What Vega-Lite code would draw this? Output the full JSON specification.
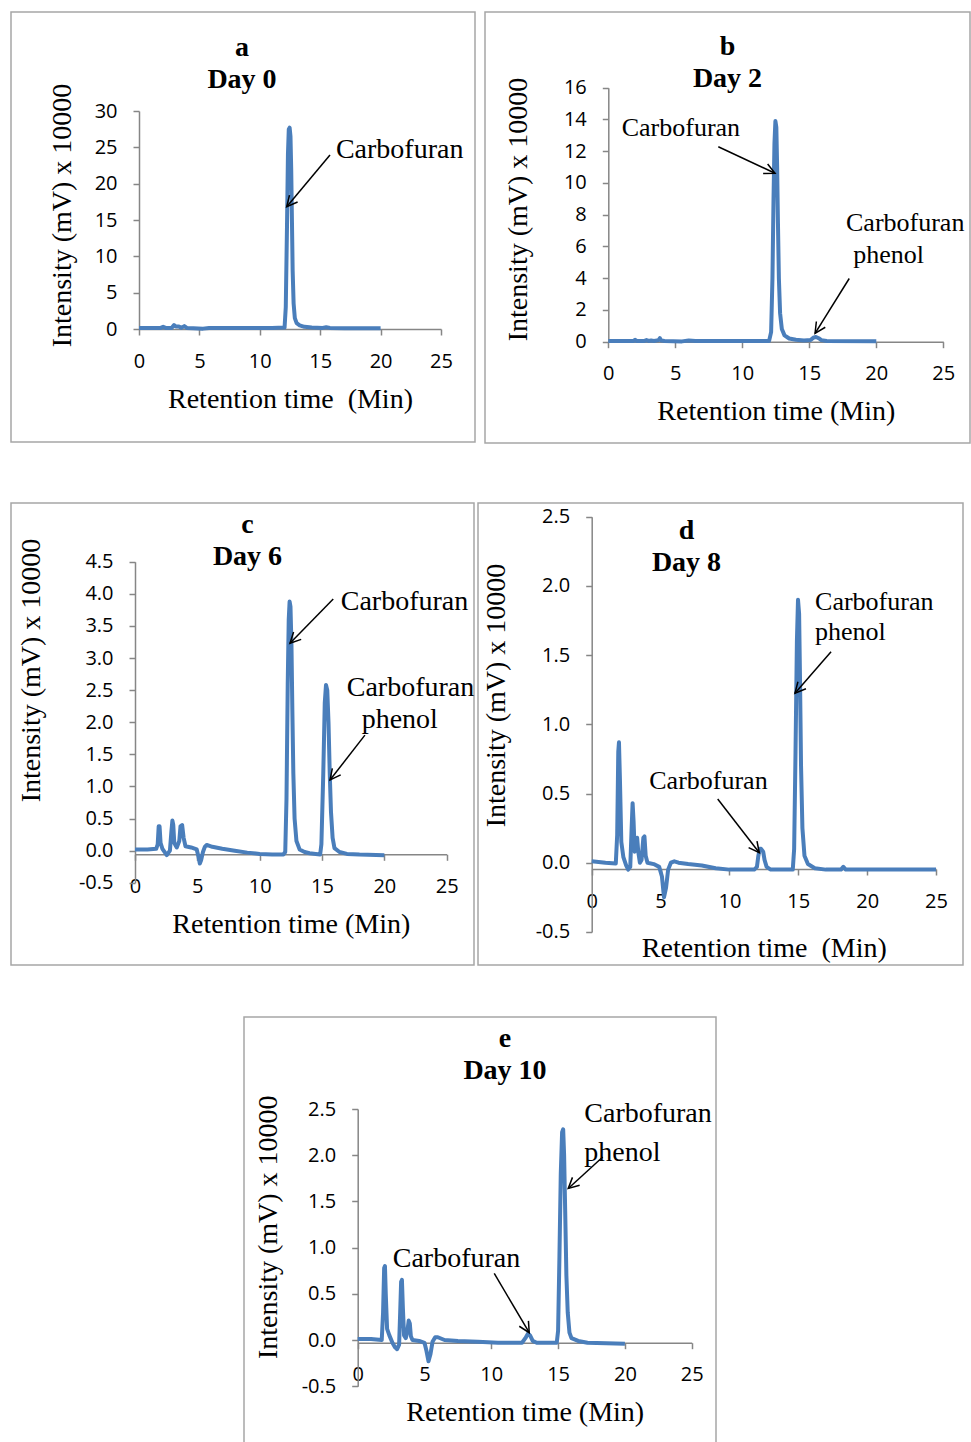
{
  "$schema": "https://vega.github.io/schema/vega-lite/v6.json",
  "padding": {"left": 10, "top": 11, "right": 0, "bottom": 0},
  "background": "white",
  "config": {
    "view": {"stroke": "#a6a6a6", "strokeWidth": 1.5},
    "axis": {
      "grid": false, "domainColor": "#868686", "domainWidth": 1.5, "tickColor": "#868686", "tickWidth": 1.5,
      "tickSize": 6, "labelPadding": 16, "labelFont": "Open Sans", "labelFontSize": 20, "labelColor": "#000000",
      "titleFont": "Liberation Serif", "titleFontSize": 28, "titleFontWeight": "normal", "titleColor": "#000000",
      "minExtent": 0, "labelFlush": false, "labelOverlap": false, "labelBound": false
    },
    "title": {"font": "Liberation Serif", "fontSize": 28, "fontWeight": "bold", "color": "#000000", "anchor": "middle", "frame": "group", "lineHeight": 32, "baseline": "middle"},
    "text": {"font": "Liberation Serif", "fontSize": 28, "align": "left", "baseline": "middle", "color": "#000000"}
  },
  "datasets": {
    "a": [{"t":0,"v":0.15},{"t":1,"v":0.15},{"t":1.8,"v":0.15},{"t":2.0,"v":0.3},{"t":2.2,"v":0.15},{"t":2.7,"v":0.15},{"t":2.9,"v":0.55},{"t":3.05,"v":0.35},{"t":3.3,"v":0.35},{"t":3.5,"v":0.15},{"t":3.75,"v":0.4},{"t":3.95,"v":0.15},{"t":4.5,"v":0.1},{"t":5.3,"v":0.05},{"t":5.8,"v":0.15},{"t":7,"v":0.15},{"t":9,"v":0.15},{"t":11,"v":0.15},{"t":12.05,"v":0.2},{"t":12.15,"v":3},{"t":12.25,"v":14},{"t":12.33,"v":24},{"t":12.4,"v":27.5},{"t":12.47,"v":27.7},{"t":12.54,"v":26.5},{"t":12.6,"v":22},{"t":12.66,"v":15},{"t":12.72,"v":8},{"t":12.8,"v":3.5},{"t":12.9,"v":1.5},{"t":13.05,"v":0.8},{"t":13.3,"v":0.5},{"t":13.7,"v":0.3},{"t":14.3,"v":0.2},{"t":15.2,"v":0.15},{"t":15.5,"v":0.25},{"t":15.8,"v":0.15},{"t":17,"v":0.12},{"t":20,"v":0.1}],
    "a_txt": [{"t":16.3,"v":24.6,"label":"Carbofuran"}],
    "a_arr": [{"t":15.81,"v":23.94,"t2":12.23,"v2":16.83,"ang":129.9}],
    "b": [{"t":0,"v":0.05},{"t":1.9,"v":0.05},{"t":2.0,"v":0.12},{"t":2.1,"v":0.05},{"t":2.7,"v":0.05},{"t":2.85,"v":0.1},{"t":3.0,"v":0.05},{"t":3.2,"v":0.08},{"t":3.4,"v":0.05},{"t":3.75,"v":0.1},{"t":3.85,"v":0.22},{"t":3.95,"v":0.08},{"t":4.2,"v":0.05},{"t":5.5,"v":0.02},{"t":6,"v":0.08},{"t":6.5,"v":0.05},{"t":9,"v":0.04},{"t":12.0,"v":0.05},{"t":12.15,"v":0.6},{"t":12.25,"v":4},{"t":12.33,"v":9},{"t":12.4,"v":12.5},{"t":12.47,"v":13.9},{"t":12.54,"v":13.5},{"t":12.6,"v":11},{"t":12.66,"v":7.5},{"t":12.73,"v":4},{"t":12.82,"v":1.8},{"t":12.95,"v":0.8},{"t":13.15,"v":0.4},{"t":13.5,"v":0.2},{"t":14,"v":0.12},{"t":14.6,"v":0.08},{"t":15.1,"v":0.1},{"t":15.3,"v":0.25},{"t":15.5,"v":0.3},{"t":15.7,"v":0.22},{"t":15.9,"v":0.1},{"t":16.3,"v":0.05},{"t":20,"v":0.03}],
    "b_txt": [{"t":1.0,"v":13.44,"label":"Carbofuran"},{"t":17.74,"v":7.5,"label":"Carbofuran"},{"t":18.28,"v":5.46,"label":"phenol"}],
    "b_arr": [{"t":8.21,"v":12.28,"t2":12.44,"v2":10.61,"ang":25.1},{"t":17.98,"v":3.98,"t2":15.43,"v2":0.53,"ang":122.9}],
    "c": [{"t":0,"v":0.02},{"t":1.0,"v":0.02},{"t":1.7,"v":0.03},{"t":1.82,"v":0.1},{"t":1.9,"v":0.38},{"t":1.97,"v":0.38},{"t":2.05,"v":0.12},{"t":2.2,"v":0.03},{"t":2.55,"v":-0.07},{"t":2.8,"v":0.0},{"t":2.92,"v":0.3},{"t":3.0,"v":0.47},{"t":3.07,"v":0.4},{"t":3.15,"v":0.12},{"t":3.35,"v":0.05},{"t":3.55,"v":0.15},{"t":3.65,"v":0.38},{"t":3.78,"v":0.4},{"t":3.9,"v":0.2},{"t":4.05,"v":0.07},{"t":4.5,"v":0.05},{"t":4.95,"v":0.02},{"t":5.1,"v":-0.1},{"t":5.2,"v":-0.2},{"t":5.3,"v":-0.15},{"t":5.45,"v":-0.02},{"t":5.6,"v":0.06},{"t":5.75,"v":0.09},{"t":6.2,"v":0.06},{"t":7.0,"v":0.03},{"t":8,"v":0.0},{"t":9,"v":-0.03},{"t":10,"v":-0.05},{"t":11,"v":-0.06},{"t":11.9,"v":-0.06},{"t":12.05,"v":-0.02},{"t":12.15,"v":0.8},{"t":12.25,"v":2.6},{"t":12.33,"v":3.6},{"t":12.4,"v":3.88},{"t":12.47,"v":3.8},{"t":12.55,"v":3.2},{"t":12.62,"v":2.2},{"t":12.7,"v":1.2},{"t":12.8,"v":0.5},{"t":12.95,"v":0.15},{"t":13.2,"v":0.02},{"t":13.6,"v":-0.02},{"t":14,"v":-0.04},{"t":14.5,"v":-0.05},{"t":14.85,"v":-0.06},{"t":14.95,"v":0.1},{"t":15.1,"v":1.2},{"t":15.22,"v":2.3},{"t":15.32,"v":2.58},{"t":15.42,"v":2.5},{"t":15.52,"v":2.0},{"t":15.62,"v":1.2},{"t":15.72,"v":0.6},{"t":15.85,"v":0.2},{"t":16.0,"v":0.04},{"t":16.4,"v":-0.02},{"t":17,"v":-0.05},{"t":18,"v":-0.06},{"t":20,"v":-0.07}],
    "c_txt": [{"t":16.5,"v":3.87,"label":"Carbofuran"},{"t":16.98,"v":2.53,"label":"Carbofuran"},{"t":18.18,"v":2.04,"label":"phenol"}],
    "c_arr": [{"t":15.9,"v":3.92,"t2":12.43,"v2":3.23,"ang":134.3},{"t":18.44,"v":1.8,"t2":15.64,"v2":1.1,"ang":127.9}],
    "d": [{"t":0,"v":0.01},{"t":1.0,"v":0.0},{"t":1.75,"v":-0.005},{"t":1.85,"v":0.2},{"t":1.93,"v":0.8},{"t":1.98,"v":0.87},{"t":2.05,"v":0.6},{"t":2.15,"v":0.15},{"t":2.3,"v":0.04},{"t":2.5,"v":-0.02},{"t":2.65,"v":-0.05},{"t":2.8,"v":-0.03},{"t":2.9,"v":0.25},{"t":2.97,"v":0.43},{"t":3.04,"v":0.3},{"t":3.12,"v":0.08},{"t":3.2,"v":0.1},{"t":3.3,"v":0.18},{"t":3.38,"v":0.08},{"t":3.5,"v":0.0},{"t":3.62,"v":0.02},{"t":3.75,"v":0.18},{"t":3.83,"v":0.19},{"t":3.92,"v":0.05},{"t":4.05,"v":0.0},{"t":4.5,"v":-0.01},{"t":4.9,"v":-0.03},{"t":5.1,"v":-0.1},{"t":5.25,"v":-0.25},{"t":5.4,"v":-0.18},{"t":5.55,"v":-0.05},{"t":5.75,"v":0.0},{"t":6.0,"v":0.01},{"t":6.3,"v":0.0},{"t":7,"v":-0.01},{"t":8,"v":-0.02},{"t":9,"v":-0.04},{"t":10,"v":-0.05},{"t":11.8,"v":-0.05},{"t":12.0,"v":-0.03},{"t":12.1,"v":0.05},{"t":12.2,"v":0.1},{"t":12.3,"v":0.1},{"t":12.45,"v":0.08},{"t":12.55,"v":0.02},{"t":12.7,"v":-0.03},{"t":13.0,"v":-0.05},{"t":14.0,"v":-0.05},{"t":14.6,"v":-0.05},{"t":14.7,"v":0.1},{"t":14.8,"v":0.8},{"t":14.9,"v":1.6},{"t":14.98,"v":1.9},{"t":15.06,"v":1.8},{"t":15.13,"v":1.3},{"t":15.2,"v":0.7},{"t":15.3,"v":0.25},{"t":15.45,"v":0.05},{"t":15.7,"v":-0.01},{"t":16.2,"v":-0.04},{"t":17,"v":-0.05},{"t":18.1,"v":-0.05},{"t":18.27,"v":-0.03},{"t":18.45,"v":-0.05},{"t":20,"v":-0.05},{"t":25,"v":-0.05}],
    "d_txt": [{"t":16.22,"v":1.886,"label":"Carbofuran"},{"t":16.22,"v":1.67,"label":"phenol"},{"t":4.18,"v":0.59,"label":"Carbofuran"}],
    "d_arr": [{"t":17.38,"v":1.525,"t2":14.76,"v2":1.224,"ang":130.9},{"t":9.15,"v":0.46,"t2":12.17,"v2":0.072,"ang":52.2}],
    "e": [{"t":0,"v":0.01},{"t":1.0,"v":0.01},{"t":1.8,"v":0.0},{"t":1.9,"v":0.3},{"t":1.98,"v":0.78},{"t":2.04,"v":0.8},{"t":2.1,"v":0.5},{"t":2.2,"v":0.12},{"t":2.37,"v":0.05},{"t":2.6,"v":-0.03},{"t":2.8,"v":-0.08},{"t":2.95,"v":-0.1},{"t":3.1,"v":-0.05},{"t":3.18,"v":0.3},{"t":3.25,"v":0.63},{"t":3.31,"v":0.65},{"t":3.38,"v":0.35},{"t":3.47,"v":0.05},{"t":3.6,"v":0.02},{"t":3.72,"v":0.1},{"t":3.82,"v":0.21},{"t":3.9,"v":0.18},{"t":3.98,"v":0.04},{"t":4.1,"v":0.0},{"t":4.6,"v":-0.01},{"t":5.0,"v":-0.03},{"t":5.15,"v":-0.12},{"t":5.3,"v":-0.23},{"t":5.45,"v":-0.15},{"t":5.6,"v":-0.02},{"t":5.8,"v":0.03},{"t":6.0,"v":0.03},{"t":6.5,"v":0.0},{"t":7.5,"v":-0.01},{"t":9,"v":-0.02},{"t":10.5,"v":-0.03},{"t":12.3,"v":-0.03},{"t":12.55,"v":0.02},{"t":12.75,"v":0.07},{"t":12.9,"v":0.05},{"t":13.1,"v":-0.01},{"t":13.4,"v":-0.03},{"t":14.9,"v":-0.03},{"t":15.0,"v":0.1},{"t":15.1,"v":0.9},{"t":15.2,"v":1.8},{"t":15.3,"v":2.25},{"t":15.38,"v":2.28},{"t":15.45,"v":2.0},{"t":15.53,"v":1.4},{"t":15.62,"v":0.7},{"t":15.72,"v":0.3},{"t":15.85,"v":0.08},{"t":16.0,"v":0.02},{"t":16.5,"v":-0.01},{"t":17.2,"v":-0.03},{"t":20,"v":-0.04}],
    "e_txt": [{"t":16.96,"v":2.45,"label":"Carbofuran"},{"t":16.96,"v":2.02,"label":"phenol"},{"t":2.62,"v":0.873,"label":"Carbofuran"}],
    "e_arr": [{"t":18.34,"v":1.98,"t2":15.76,"v2":1.64,"ang":137.4},{"t":10.22,"v":0.72,"t2":12.84,"v2":0.079,"ang":59.5}]
  },
  "vconcat": [
    {
      "vconcat": [
        {
          "hconcat": [
            {
              "width": 464, "height": 430,
              "title": {"text": ["a", "Day 0"], "dx": -1, "offset": -82},
              "layer": [
                {"data": {"name": "a"}, "mark": {"type": "line", "color": "#4A7EBB", "strokeWidth": 4, "strokeJoin": "round"},
                 "encoding": {
                   "x": {"field": "t", "type": "quantitative", "scale": {"domain": [0, 25], "range": [128, 430], "nice": false, "zero": false},
                         "axis": {"title": "Retention time\u00a0 (Min)", "values": [0, 5, 10, 15, 20, 25], "offset": -113, "titlePadding": 14}},
                   "y": {"field": "v", "type": "quantitative", "scale": {"domain": [0, 30], "range": [317, 99], "nice": false, "zero": false},
                         "axis": {"title": "Intensity (mV) x 10000", "values": [0, 5, 10, 15, 20, 25, 30], "offset": -128, "titlePadding": 18, "titleY": 203}}
                 }},
                {"data": {"name": "a_txt"}, "mark": {"type": "text"},
                 "encoding": {"x": {"field": "t", "type": "quantitative"}, "y": {"field": "v", "type": "quantitative"}, "text": {"field": "label"}}},
                {"data": {"name": "a_arr"}, "mark": {"type": "rule", "color": "#000000", "strokeWidth": 1.5},
                 "encoding": {"x": {"field": "t", "type": "quantitative"}, "y": {"field": "v", "type": "quantitative"}, "x2": {"field": "t2"}, "y2": {"field": "v2"}}},
                {"data": {"name": "a_arr"}, "mark": {"type": "point", "shape": "M-1,-0.5L0,0L-1,0.5", "filled": false, "size": 450, "stroke": "#000000", "strokeWidth": 1.5, "opacity": 1},
                 "encoding": {"x": {"field": "t2", "type": "quantitative"}, "y": {"field": "v2", "type": "quantitative"}, "angle": {"field": "ang", "type": "quantitative", "scale": null}}}
              ]
            },
            {
              "width": 485, "height": 431,
              "title": {"text": ["b", "Day 2"], "dx": 0, "offset": -81},
              "layer": [
                {"data": {"name": "b"}, "mark": {"type": "line", "color": "#4A7EBB", "strokeWidth": 4, "strokeJoin": "round"},
                 "encoding": {
                   "x": {"field": "t", "type": "quantitative", "scale": {"domain": [0, 25], "range": [123.3, 458.3], "nice": false, "zero": false},
                         "axis": {"title": "Retention time (Min)", "values": [0, 5, 10, 15, 20, 25], "offset": -101.3, "titlePadding": 13.5}},
                   "y": {"field": "v", "type": "quantitative", "scale": {"domain": [0, 16], "range": [329.7, 75.7], "nice": false, "zero": false},
                         "axis": {"title": "Intensity (mV) x 10000", "values": [0, 2, 4, 6, 8, 10, 12, 14, 16], "offset": -123.3, "titlePadding": 31, "titleY": 197}}
                 }},
                {"data": {"name": "b_txt"}, "mark": {"type": "text", "fontSize": 26},
                 "encoding": {"x": {"field": "t", "type": "quantitative"}, "y": {"field": "v", "type": "quantitative"}, "text": {"field": "label"}}},
                {"data": {"name": "b_arr"}, "mark": {"type": "rule", "color": "#000000", "strokeWidth": 1.5},
                 "encoding": {"x": {"field": "t", "type": "quantitative"}, "y": {"field": "v", "type": "quantitative"}, "x2": {"field": "t2"}, "y2": {"field": "v2"}}},
                {"data": {"name": "b_arr"}, "mark": {"type": "point", "shape": "M-1,-0.5L0,0L-1,0.5", "filled": false, "size": 450, "stroke": "#000000", "strokeWidth": 1.5, "opacity": 1},
                 "encoding": {"x": {"field": "t2", "type": "quantitative"}, "y": {"field": "v2", "type": "quantitative"}, "angle": {"field": "ang", "type": "quantitative", "scale": null}}}
              ]
            }
          ],
          "spacing": 8
        },
        {
          "hconcat": [
            {
              "width": 463, "height": 462,
              "title": {"text": ["c", "Day 6"], "dx": 5, "offset": -68},
              "layer": [
                {"data": {"name": "c"}, "mark": {"type": "line", "color": "#4A7EBB", "strokeWidth": 4, "strokeJoin": "round"},
                 "encoding": {
                   "x": {"field": "t", "type": "quantitative", "scale": {"domain": [0, 25], "range": [124, 435.7], "nice": false, "zero": false},
                         "axis": {"title": "Retention time (Min)", "values": [0, 5, 10, 15, 20, 25], "offset": -110.7, "titlePadding": 14}},
                   "y": {"field": "v", "type": "quantitative", "scale": {"domain": [-0.5, 4.5], "range": [379.8, 58.7], "nice": false, "zero": false},
                         "axis": {"title": "Intensity (mV) x 10000", "values": [-0.5, 0, 0.5, 1, 1.5, 2, 2.5, 3, 3.5, 4, 4.5], "labelExpr": "datum.value < 0 ? '-' + format(-datum.value, '.1f') : format(datum.value, '.1f')", "offset": -124, "titlePadding": 33, "titleY": 167}}
                 }},
                {"data": {"name": "c_txt"}, "mark": {"type": "text"},
                 "encoding": {"x": {"field": "t", "type": "quantitative"}, "y": {"field": "v", "type": "quantitative"}, "text": {"field": "label"}}},
                {"data": {"name": "c_arr"}, "mark": {"type": "rule", "color": "#000000", "strokeWidth": 1.5},
                 "encoding": {"x": {"field": "t", "type": "quantitative"}, "y": {"field": "v", "type": "quantitative"}, "x2": {"field": "t2"}, "y2": {"field": "v2"}}},
                {"data": {"name": "c_arr"}, "mark": {"type": "point", "shape": "M-1,-0.5L0,0L-1,0.5", "filled": false, "size": 450, "stroke": "#000000", "strokeWidth": 1.5, "opacity": 1},
                 "encoding": {"x": {"field": "t2", "type": "quantitative"}, "y": {"field": "v2", "type": "quantitative"}, "angle": {"field": "ang", "type": "quantitative", "scale": null}}}
              ]
            },
            {
              "width": 485, "height": 462,
              "title": {"text": ["d", "Day 8"], "dx": -34, "offset": -74},
              "layer": [
                {"data": {"name": "d"}, "mark": {"type": "line", "color": "#4A7EBB", "strokeWidth": 4, "strokeJoin": "round"},
                 "encoding": {
                   "x": {"field": "t", "type": "quantitative", "scale": {"domain": [0, 25], "range": [113.7, 458], "nice": false, "zero": false},
                         "axis": {"title": "Retention time\u00a0 (Min)", "values": [0, 5, 10, 15, 20, 25], "offset": -96, "titlePadding": 23}},
                   "y": {"field": "v", "type": "quantitative", "scale": {"domain": [-0.5, 2.5], "range": [428.9, 13.7], "nice": false, "zero": false},
                         "axis": {"title": "Intensity (mV) x 10000", "values": [-0.5, 0, 0.5, 1, 1.5, 2, 2.5], "labelExpr": "datum.value < 0 ? '-' + format(-datum.value, '.1f') : format(datum.value, '.1f')", "offset": -113.7, "titlePadding": 25, "titleY": 192}}
                 }},
                {"data": {"name": "d_txt"}, "mark": {"type": "text", "fontSize": 26},
                 "encoding": {"x": {"field": "t", "type": "quantitative"}, "y": {"field": "v", "type": "quantitative"}, "text": {"field": "label"}}},
                {"data": {"name": "d_arr"}, "mark": {"type": "rule", "color": "#000000", "strokeWidth": 1.5},
                 "encoding": {"x": {"field": "t", "type": "quantitative"}, "y": {"field": "v", "type": "quantitative"}, "x2": {"field": "t2"}, "y2": {"field": "v2"}}},
                {"data": {"name": "d_arr"}, "mark": {"type": "point", "shape": "M-1,-0.5L0,0L-1,0.5", "filled": false, "size": 450, "stroke": "#000000", "strokeWidth": 1.5, "opacity": 1},
                 "encoding": {"x": {"field": "t2", "type": "quantitative"}, "y": {"field": "v2", "type": "quantitative"}, "angle": {"field": "ang", "type": "quantitative", "scale": null}}}
              ]
            }
          ],
          "spacing": 2
        }
      ],
      "spacing": 58
    },
    {
      "hconcat": [
        {"width": 232, "height": 10, "data": {"values": [{}]}, "mark": {"type": "point", "opacity": 0}, "view": {"stroke": null}},
        {
          "width": 472, "height": 430,
          "title": {"text": ["e", "Day 10"], "dx": 25, "offset": -68},
          "layer": [
            {"data": {"name": "e"}, "mark": {"type": "line", "color": "#4A7EBB", "strokeWidth": 4, "strokeJoin": "round"},
             "encoding": {
               "x": {"field": "t", "type": "quantitative", "scale": {"domain": [0, 25], "range": [113.7, 447.7], "nice": false, "zero": false},
                     "axis": {"title": "Retention time (Min)", "values": [0, 5, 10, 15, 20, 25], "offset": -104.3, "titlePadding": 14}},
               "y": {"field": "v", "type": "quantitative", "scale": {"domain": [-0.5, 2.5], "range": [369.2, 92], "nice": false, "zero": false},
                     "axis": {"title": "Intensity (mV) x 10000", "values": [-0.5, 0, 0.5, 1, 1.5, 2, 2.5], "labelExpr": "datum.value < 0 ? '-' + format(-datum.value, '.1f') : format(datum.value, '.1f')", "offset": -113.7, "titlePadding": 19, "titleY": 209.7}}
             }},
            {"data": {"name": "e_txt"}, "mark": {"type": "text"},
             "encoding": {"x": {"field": "t", "type": "quantitative"}, "y": {"field": "v", "type": "quantitative"}, "text": {"field": "label"},
                          "fontSize": {"condition": {"test": "datum.v < 1", "value": 26}, "value": 28}}},
            {"data": {"name": "e_arr"}, "mark": {"type": "rule", "color": "#000000", "strokeWidth": 1.5},
             "encoding": {"x": {"field": "t", "type": "quantitative"}, "y": {"field": "v", "type": "quantitative"}, "x2": {"field": "t2"}, "y2": {"field": "v2"}}},
            {"data": {"name": "e_arr"}, "mark": {"type": "point", "shape": "M-1,-0.5L0,0L-1,0.5", "filled": false, "size": 450, "stroke": "#000000", "strokeWidth": 1.5, "opacity": 1},
             "encoding": {"x": {"field": "t2", "type": "quantitative"}, "y": {"field": "v2", "type": "quantitative"}, "angle": {"field": "ang", "type": "quantitative", "scale": null}}}
          ]
        }
      ],
      "spacing": 0
    }
  ],
  "spacing": 50
}
